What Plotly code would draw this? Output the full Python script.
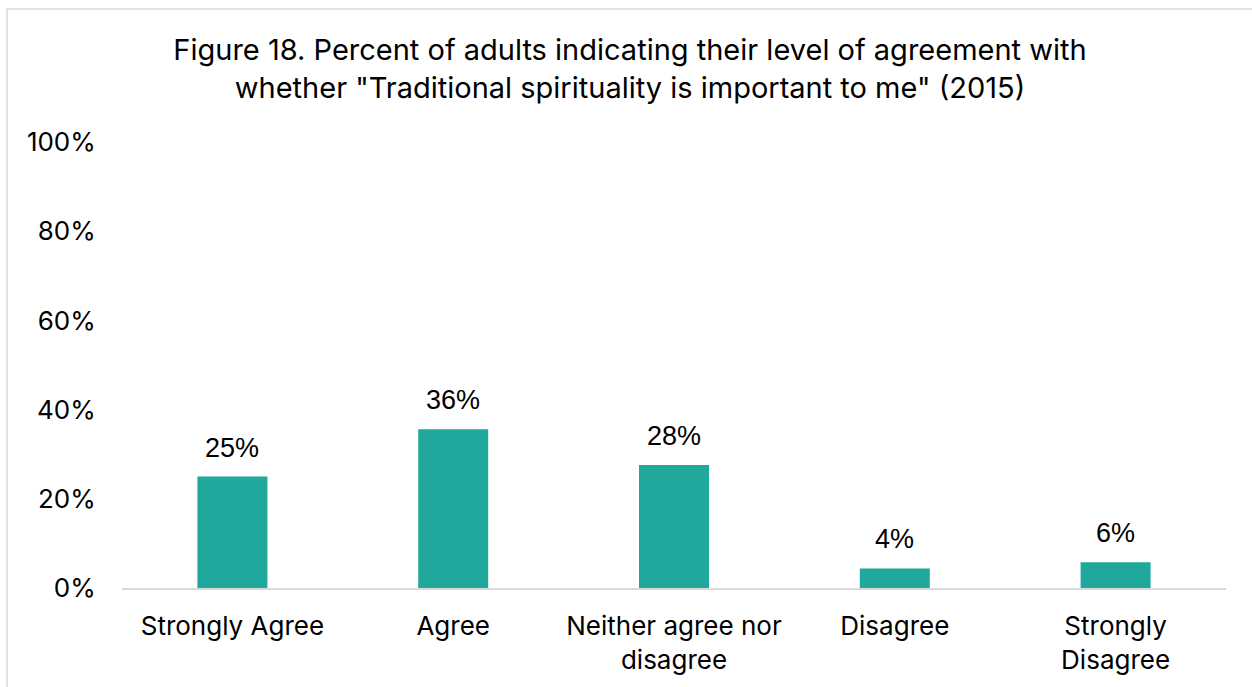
import plotly.graph_objects as go

# Survey responses (share of adults, %)
categories = ["Strongly Agree", "Agree", "Neither agree nor<br>disagree", "Disagree", "Strongly<br>Disagree"]
percent = [25.0, 35.6, 27.6, 4.4, 5.8]
y_ticks = [0, 20, 40, 60, 80, 100]
y_tick_labels = ["0%", "20%", "40%", "60%", "80%", "100%"]

title_text = ("Figure 18. Percent of adults indicating their level of agreement with<br>"
              "whether \"Traditional spirituality is important to me\" (2015)")

W, H = 1252, 687
L, R, T, B = 122, 26, 142, 99
pw, ph = W - L - R, H - T - B

bar_color = "#21A89C"
text_font = "Inter, 'Open Sans', sans-serif"

fig = go.Figure(
    go.Bar(
        x=categories,
        y=percent,
        marker=dict(color=bar_color, line=dict(width=0)),
        hoverinfo="x+y",
    )
)

# Value labels above each bar
annotations = [
    dict(
        x=c, y=v, xref="x", yref="y",
        text=f"{v:.0f}%", showarrow=False,
        yanchor="bottom", yshift=12,
        font=dict(family="'Liberation Sans', Arial, sans-serif", size=27, color="#000000"),
    )
    for c, v in zip(categories, percent)
]

# Outer chart frame (drawn in paper units relative to the plot area)
frame = dict(
    type="rect", xref="paper", yref="paper",
    x0=(7 - L) / pw, x1=(W + 10 - L) / pw,
    y0=-(H + 10 - (T + ph)) / ph, y1=(T + ph - 9) / ph,
    line=dict(color="#d9d9d9", width=1.5), fillcolor="rgba(0,0,0,0)", layer="below",
)

fig.update_layout(
    width=W, height=H,
    margin=dict(l=L, r=R, t=T, b=B, pad=0),
    paper_bgcolor="white", plot_bgcolor="white",
    bargap=0.683,
    showlegend=False,
    title=dict(
        text=title_text, xref="container", yref="container",
        x=630 / W, xanchor="center", y=1 - 60 / H, yanchor="middle",
        font=dict(family=text_font, size=29, color="#000000"),
    ),
    xaxis=dict(
        showgrid=False, showline=True, linecolor="#d9d9d9", linewidth=1.5,
        ticks="outside", ticklen=0, ticklabelstandoff=14,
        tickfont=dict(family=text_font, size=26, color="#000000"),
    ),
    yaxis=dict(
        range=[0, 100], tickvals=y_ticks, ticktext=y_tick_labels,
        showgrid=False, showline=False, zeroline=False,
        ticks="outside", ticklen=0, ticklabelstandoff=20,
        tickfont=dict(family=text_font, size=26, color="#000000"),
    ),
    annotations=annotations,
    shapes=[frame],
    font=dict(family=text_font),
)

fig.write_html("out.html")
